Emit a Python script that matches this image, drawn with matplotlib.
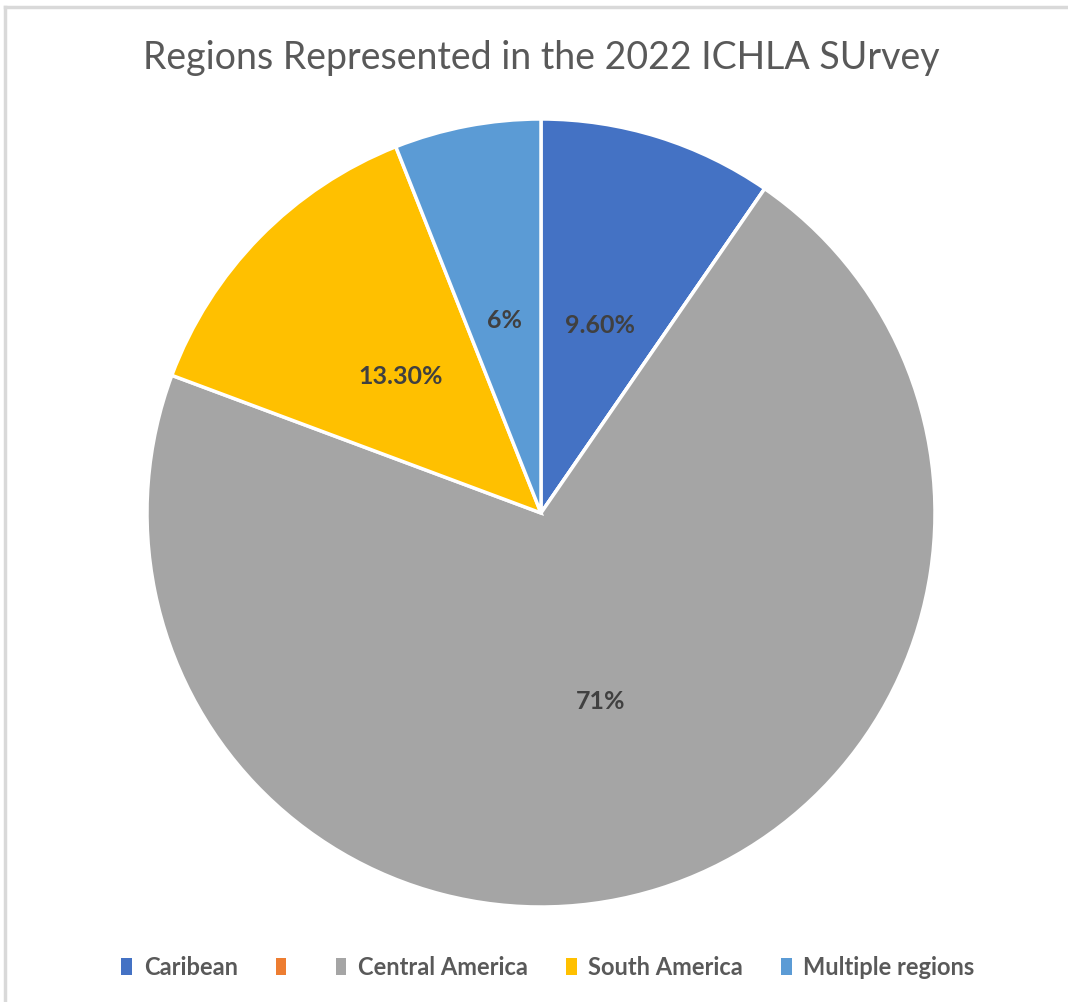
import matplotlib.pyplot as plt
from matplotlib.lines import Line2D
from matplotlib.patches import Patch

regions = ['Caribean', '', 'Central America', 'South America', 'Multiple regions']
shares = [9.6, 0.0, 71.0, 13.3, 6.0]
pct_labels = ['9.60%', '', '71%', '13.30%', '6%']
colors = ['#4472C4', '#ED7D31', '#A5A5A5', '#FFC000', '#5B9BD5']

plt.rcParams['font.family'] = ['Lato', 'DejaVu Sans']

W, H = 1068, 1003
fig = plt.figure(figsize=(W / 100, H / 100), dpi=100)

# light grey frame on the top and left edge, as in the screenshot
fig.add_artist(Line2D([5 / W, 5 / W], [0, 1 - 8 / H], transform=fig.transFigure,
                      color='#D9D9D9', lw=2.5))
fig.add_artist(Line2D([5 / W, 1], [1 - 8 / H, 1 - 8 / H], transform=fig.transFigure,
                      color='#D9D9D9', lw=2.5))

r = 394
cx, cy = 541, H - 514
ax = fig.add_axes([(cx - r) / W, (cy - r) / H, 2 * r / W, 2 * r / H])

wedges, texts = ax.pie(shares, labels=pct_labels, colors=colors, startangle=90,
                       counterclock=False, labeldistance=0.5,
                       wedgeprops=dict(edgecolor='white', linewidth=2.5),
                       textprops=dict(color='#404040', fontsize=18, fontweight='bold',
                                      ha='center', va='center'))
ax.set_xlim(-1, 1)
ax.set_ylim(-1, 1)

fig.text(cx / W, 1 - 58 / H, 'Regions Represented in the 2022 ICHLA SUrvey',
         ha='center', va='center', fontsize=27, color='#595959')

handles = [Patch(facecolor=c, edgecolor='none') for c in colors]
fig.legend(handles, regions, loc='center', bbox_to_anchor=(548 / W, 1 - 968 / H),
           ncol=5, frameon=False, labelcolor='#595959',
           handlelength=0.45, handleheight=0.7, handletextpad=0.5, columnspacing=1.6,
           prop=dict(weight='bold', size=17))

fig.savefig('out.png', dpi=100)
